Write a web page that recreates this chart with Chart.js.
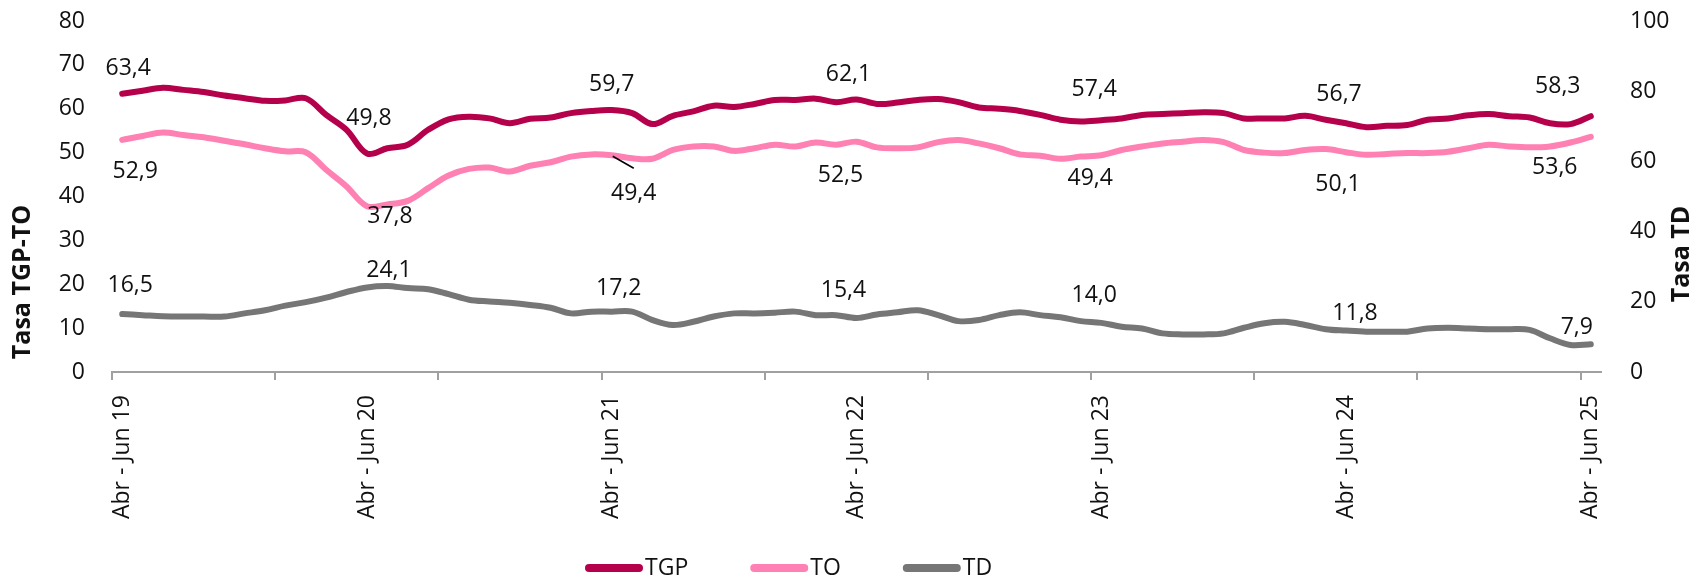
<!DOCTYPE html>
<html>
<head>
<meta charset="utf-8">
<script src="https://cdn.jsdelivr.net/npm/chart.js@4/dist/chart.umd.min.js"></script>
<style>
  html, body { margin: 0; padding: 0; background: #ffffff; }
  #wrap { position: relative; width: 1696px; height: 579px; }
  canvas { display: block; }
</style>
</head>
<body>
<div id="wrap"><canvas id="chart" width="1696" height="579"></canvas></div>
<script>
// ---------------- DATA ----------------
const categories = [
  "Abr - Jun 19","May - Jul 19","Jun - Ago 19","Jul - Set 19","Ago - Oct 19","Set - Nov 19","Oct - Dic 19","Nov - Ene 20","Dic - Feb 20","Ene - Mar 20","Feb - Abr 20","Mar - May 20",
  "Abr - Jun 20","May - Jul 20","Jun - Ago 20","Jul - Set 20","Ago - Oct 20","Set - Nov 20","Oct - Dic 20","Nov - Ene 21","Dic - Feb 21","Ene - Mar 21","Feb - Abr 21","Mar - May 21",
  "Abr - Jun 21","May - Jul 21","Jun - Ago 21","Jul - Set 21","Ago - Oct 21","Set - Nov 21","Oct - Dic 21","Nov - Ene 22","Dic - Feb 22","Ene - Mar 22","Feb - Abr 22","Mar - May 22",
  "Abr - Jun 22","May - Jul 22","Jun - Ago 22","Jul - Set 22","Ago - Oct 22","Set - Nov 22","Oct - Dic 22","Nov - Ene 23","Dic - Feb 23","Ene - Mar 23","Feb - Abr 23","Mar - May 23",
  "Abr - Jun 23","May - Jul 23","Jun - Ago 23","Jul - Set 23","Ago - Oct 23","Set - Nov 23","Oct - Dic 23","Nov - Ene 24","Dic - Feb 24","Ene - Mar 24","Feb - Abr 24","Mar - May 24",
  "Abr - Jun 24","May - Jul 24","Jun - Ago 24","Jul - Set 24","Ago - Oct 24","Set - Nov 24","Oct - Dic 24","Nov - Ene 25","Dic - Feb 25","Ene - Mar 25","Feb - Abr 25","Mar - May 25",
  "Abr - Jun 25"
];

const tgpValues = [
  63.4,64.1,64.8,64.3,63.8,63.0,62.4,61.8,61.9,62.4,58.6,55.2,
  49.8,51.0,51.8,55.2,57.6,58.2,57.8,56.7,57.7,58.0,59.0,59.5,
  59.7,59.0,56.5,58.4,59.4,60.7,60.4,61.1,62.0,62.0,62.3,61.5,
  62.1,61.1,61.4,62.0,62.2,61.5,60.3,60.0,59.5,58.6,57.5,57.1,
  57.4,57.8,58.6,58.8,59.0,59.2,59.0,57.8,57.8,57.8,58.4,57.5,
  56.7,55.8,56.1,56.3,57.5,57.8,58.5,58.8,58.3,58.0,56.7,56.5,
  58.3
];

const toValues = [
  52.9,53.8,54.6,54.0,53.5,52.7,51.9,51.0,50.3,50.1,46.1,42.3,
  37.8,38.2,39.0,41.9,44.8,46.3,46.6,45.7,47.0,47.8,49.1,49.6,
  49.4,48.7,48.6,50.6,51.4,51.4,50.4,51.0,51.8,51.4,52.3,51.8,
  52.5,51.2,51.0,51.2,52.4,52.9,52.1,51.0,49.6,49.3,48.6,49.1,
  49.4,50.6,51.4,52.1,52.5,52.9,52.4,50.6,50.0,49.9,50.6,50.8,
  50.1,49.5,49.7,49.9,49.9,50.2,51.0,51.8,51.4,51.2,51.4,52.3,
  53.6
];

const tdValues = [
  16.5,16.2,15.9,15.8,15.8,15.8,16.7,17.6,18.9,19.9,21.2,22.8,
  24.1,24.5,23.9,23.6,22.2,20.6,20.1,19.7,19.1,18.3,16.7,17.2,
  17.2,17.2,14.8,13.4,14.3,15.8,16.7,16.7,16.9,17.2,16.2,16.2,
  15.4,16.4,17.0,17.6,16.2,14.5,14.8,16.2,17.0,16.2,15.6,14.5,
  14.0,12.9,12.4,11.0,10.7,10.7,11.0,12.6,13.9,14.3,13.4,12.2,
  11.8,11.5,11.5,11.5,12.4,12.6,12.4,12.2,12.2,12.0,9.6,7.7,
  7.9
];

const xTickLabels = ["Abr - Jun 19","Abr - Jun 20","Abr - Jun 21","Abr - Jun 22","Abr - Jun 23","Abr - Jun 24","Abr - Jun 25"];
const leftTicks = [0, 10, 20, 30, 40, 50, 60, 70, 80];
const rightTicks = [0, 20, 40, 60, 80, 100];
const seriesNames = ["TGP", "TO", "TD"];
const labeledCategories = ["Abr - Jun 19","Abr - Jun 20","Abr - Jun 21","Abr - Jun 22","Abr - Jun 23","Abr - Jun 24","Abr - Jun 25"];

// ---------------- STYLE ----------------
const FONT = "'Open Sans', 'Noto Sans', sans-serif";
const TEXT = '#111111';
const AXIS = '#A0A0A0';
const COLORS = ['#B5004B', '#FF80B2', '#767676'];

// label offsets (pixels, relative to the data point) per series, in labeledCategories order
const labelOffsets = [
  [[6,-25],[2,-35],[0,-26],[-8,-25],[-7,-31],[-7,-29],[-33,-30]],
  [[13,32],[23,10],[22,38],[-16,34],[-11,23],[-8,32],[-36,31]],
  [[8,-29],[22,-17],[7,-23],[-13,-27],[-7,-27],[9,-17],[-14,-17]]
];

const fmt = v => v.toFixed(1).replace('.', ',');

const dataLabelPlugin = {
  id: 'dataLabels',
  afterDatasetsDraw(chart) {
    const ctx = chart.ctx;
    ctx.save();
    ctx.font = `23px ${FONT}`;
    ctx.fillStyle = TEXT;
    ctx.textAlign = 'center';
    ctx.textBaseline = 'middle';
    chart.data.datasets.forEach((ds, di) => {
      const meta = chart.getDatasetMeta(di);
      labeledCategories.forEach((cat, k) => {
        const idx = categories.indexOf(cat);
        const pt = meta.data[idx];
        if (!pt) return;
        const [dx, dy] = labelOffsets[di][k];
        ctx.fillText(fmt(ds.data[idx]), pt.x + dx, pt.y + dy);
        if (di === 1 && k === 2) {
          ctx.strokeStyle = '#000';
          ctx.lineWidth = 1.5;
          ctx.beginPath();
          ctx.moveTo(pt.x + 1, pt.y + 1);
          ctx.lineTo(pt.x + 22, pt.y + 13);
          ctx.stroke();
        }
      });
    });
    ctx.restore();
  }
};

const titlesLegendPlugin = {
  id: 'titlesLegend',
  afterDraw(chart) {
    const ctx = chart.ctx;
    const area = chart.chartArea;
    ctx.save();
    // axis titles
    ctx.font = `bold 25px ${FONT}`;
    ctx.fillStyle = TEXT;
    ctx.textAlign = 'center';
    ctx.textBaseline = 'middle';
    ctx.save();
    ctx.translate(23, area.top + 261);
    ctx.rotate(-Math.PI / 2);
    ctx.fillText('Tasa TGP-TO', 0, 0);
    ctx.restore();
    ctx.save();
    ctx.translate(chart.width - 14, area.top + 233);
    ctx.rotate(-Math.PI / 2);
    ctx.fillText('Tasa TD', 0, 0);
    ctx.restore();
    // legend
    let x = 585;
    const y = 568;
    ctx.font = `23px ${FONT}`;
    ctx.textAlign = 'left';
    chart.data.datasets.forEach(ds => {
      ctx.strokeStyle = ds.borderColor;
      ctx.lineWidth = 8;
      ctx.lineCap = 'round';
      ctx.beginPath();
      ctx.moveTo(x + 4, y);
      ctx.lineTo(x + 54, y);
      ctx.stroke();
      ctx.fillStyle = TEXT;
      ctx.fillText(ds.label, x + 60, y);
      x += 60 + ctx.measureText(ds.label).width + 62;
    });
    ctx.restore();
  }
};

const mkDataset = (label, data, color, axis) => ({
  label, data, yAxisID: axis,
  borderColor: color, backgroundColor: color,
  borderWidth: 6, pointRadius: 0, pointHoverRadius: 0,
  tension: 0.35, borderCapStyle: 'round', borderJoinStyle: 'round', fill: false
});

const fitVertical = w => s => { s.width = w; s.paddingTop = 0; s.paddingBottom = 0; };

new Chart(document.getElementById('chart'), {
  type: 'line',
  data: {
    labels: categories,
    datasets: [
      mkDataset(seriesNames[0], tgpValues, COLORS[0], 'y'),
      mkDataset(seriesNames[1], toValues, COLORS[1], 'y'),
      mkDataset(seriesNames[2], tdValues, COLORS[2], 'y1')
    ]
  },
  options: {
    responsive: false,
    animation: false,
    devicePixelRatio: 1,
    layout: { padding: { top: 21, left: 0, right: 0, bottom: 0 } },
    plugins: { legend: { display: false }, tooltip: { enabled: false } },
    scales: {
      x: {
        type: 'category',
        offset: true,
        grid: {
          display: true, drawOnChartArea: false, drawTicks: true, tickLength: 8, offset: true, lineWidth: 2,
          color: c => (c.index % 8 === 0 ? AXIS : 'rgba(0,0,0,0)')
        },
        border: { display: true, color: AXIS, width: 2 },
        ticks: {
          autoSkip: false, minRotation: 90, maxRotation: 90, padding: 15,
          color: TEXT, font: { family: FONT, size: 23 },
          callback: (v, i) => (xTickLabels.includes(categories[i]) ? categories[i] : '')
        },
        afterFit: s => { s.height = 207; s.paddingLeft = 0; s.paddingRight = 0; }
      },
      y: {
        position: 'left', min: leftTicks[0], max: leftTicks[leftTicks.length - 1],
        afterBuildTicks: s => { s.ticks = leftTicks.map(v => ({ value: v })); },
        grid: { display: false, drawTicks: false },
        border: { display: false },
        ticks: { padding: 27, color: TEXT, font: { family: FONT, size: 23 } },
        afterFit: fitVertical(112)
      },
      y1: {
        position: 'right', min: rightTicks[0], max: rightTicks[rightTicks.length - 1],
        afterBuildTicks: s => { s.ticks = rightTicks.map(v => ({ value: v })); },
        grid: { display: false, drawTicks: false },
        border: { display: false },
        ticks: { padding: 29, color: TEXT, font: { family: FONT, size: 23 } },
        afterFit: fitVertical(95)
      }
    }
  },
  plugins: [dataLabelPlugin, titlesLegendPlugin]
});
</script>
</body>
</html>
